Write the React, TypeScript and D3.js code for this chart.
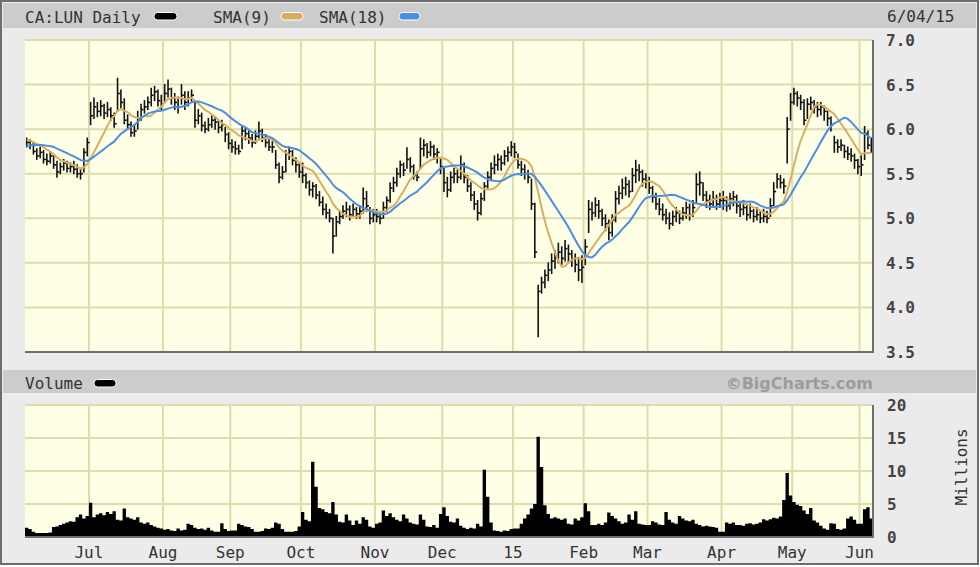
import React, { useMemo } from 'react'
import * as d3 from 'd3'

// daily bars per month: [high, low, close, volume (millions)]
type Bar = [number, number, number, number]

const jun14: Bar[] = [
    [5.90, 5.80, 5.85, 1.4], [5.88, 5.78, 5.82, 1.2], [5.84, 5.72, 5.75, 0.8], [5.78, 5.66, 5.70, 0.6],
    [5.80, 5.68, 5.74, 0.6], [5.76, 5.62, 5.66, 0.6], [5.72, 5.60, 5.64, 0.6], [5.74, 5.62, 5.70, 0.7],
    [5.70, 5.56, 5.60, 1.5], [5.64, 5.46, 5.52, 1.6], [5.62, 5.50, 5.58, 1.8], [5.66, 5.54, 5.62, 2.0],
    [5.64, 5.52, 5.56, 2.2], [5.62, 5.52, 5.58, 2.4], [5.64, 5.50, 5.55, 2.3], [5.60, 5.46, 5.50, 3.0],
    [5.56, 5.44, 5.50, 3.4], [5.78, 5.52, 5.74, 2.8], [5.90, 5.70, 5.85, 3.2],
]
const jul14: Bar[] = [
    [6.30, 6.05, 6.15, 5.2], [6.35, 6.12, 6.25, 3.0], [6.30, 6.14, 6.20, 3.4], [6.32, 6.15, 6.26, 3.6],
    [6.28, 6.12, 6.18, 3.3], [6.30, 6.14, 6.22, 3.8], [6.24, 6.10, 6.15, 3.5], [6.18, 6.02, 6.06, 3.9],
    [6.57, 6.20, 6.40, 2.6], [6.44, 6.24, 6.30, 2.5], [6.34, 6.06, 6.10, 4.3], [6.16, 6.00, 6.05, 3.0],
    [6.08, 5.92, 5.96, 2.8], [6.04, 5.92, 5.98, 2.6], [6.20, 6.00, 6.12, 3.0], [6.28, 6.10, 6.22, 2.2],
    [6.32, 6.18, 6.25, 2.0], [6.36, 6.22, 6.30, 2.2], [6.46, 6.26, 6.38, 1.8], [6.48, 6.32, 6.42, 1.6],
    [6.44, 6.26, 6.32, 1.4], [6.38, 6.22, 6.28, 1.3],
]
const aug14: Bar[] = [
    [6.50, 6.30, 6.40, 1.1], [6.55, 6.36, 6.45, 1.2], [6.46, 6.28, 6.35, 1.0], [6.40, 6.22, 6.30, 0.9],
    [6.36, 6.18, 6.25, 1.3], [6.50, 6.28, 6.38, 1.0], [6.42, 6.22, 6.30, 1.1], [6.42, 6.26, 6.35, 2.0],
    [6.44, 6.30, 6.38, 1.8], [6.30, 6.02, 6.10, 1.4], [6.22, 6.06, 6.15, 1.2], [6.18, 5.98, 6.04, 1.3],
    [6.08, 5.96, 6.00, 1.1], [6.12, 5.98, 6.05, 1.4], [6.16, 6.02, 6.10, 1.0], [6.14, 6.00, 6.08, 0.8],
    [6.10, 5.96, 6.02, 0.8], [6.10, 5.98, 6.05, 2.1], [6.02, 5.86, 5.94, 1.2], [5.96, 5.78, 5.84, 0.9],
]
const sep14: Bar[] = [
    [5.88, 5.74, 5.80, 1.0], [5.86, 5.72, 5.78, 1.0], [5.82, 5.72, 5.75, 2.0], [6.04, 5.78, 5.98, 1.8],
    [6.02, 5.88, 5.95, 1.6], [5.98, 5.84, 5.90, 1.5], [5.94, 5.80, 5.85, 1.2], [5.98, 5.84, 5.92, 0.8],
    [6.08, 5.90, 5.98, 0.8], [6.00, 5.86, 5.90, 0.9], [5.94, 5.80, 5.85, 1.3], [5.88, 5.76, 5.80, 1.2],
    [5.86, 5.74, 5.80, 1.4], [5.76, 5.56, 5.60, 2.2], [5.62, 5.40, 5.46, 2.0], [5.58, 5.44, 5.52, 1.2],
    [5.76, 5.52, 5.72, 0.8], [5.80, 5.66, 5.75, 0.8], [5.76, 5.60, 5.65, 0.8], [5.68, 5.52, 5.60, 0.9],
    [5.62, 5.46, 5.52, 1.6],
]
const oct14: Bar[] = [
    [5.62, 5.40, 5.48, 3.8], [5.50, 5.34, 5.40, 2.6], [5.42, 5.26, 5.32, 2.4], [5.40, 5.24, 5.36, 11.4],
    [5.38, 5.22, 5.26, 7.6], [5.30, 5.14, 5.18, 4.4], [5.24, 5.04, 5.10, 4.2], [5.16, 5.00, 5.06, 3.8],
    [5.10, 4.96, 5.00, 3.6], [5.00, 4.61, 4.80, 5.3], [5.02, 4.80, 4.96, 3.4], [5.08, 4.94, 5.02, 2.3],
    [5.14, 5.00, 5.08, 2.2], [5.18, 5.02, 5.10, 3.4], [5.14, 4.98, 5.04, 2.5], [5.16, 5.02, 5.10, 1.8],
    [5.12, 5.00, 5.05, 2.5], [5.14, 5.00, 5.08, 2.0], [5.34, 5.06, 5.22, 3.0], [5.30, 5.08, 5.14, 2.6],
    [5.12, 4.94, 5.00, 1.6], [5.10, 4.96, 5.04, 1.4],
]
const nov14: Bar[] = [
    [5.10, 4.96, 5.02, 2.0], [5.06, 4.94, 5.00, 2.2], [5.18, 5.00, 5.12, 4.0], [5.24, 5.08, 5.20, 3.2],
    [5.40, 5.18, 5.34, 3.6], [5.46, 5.30, 5.40, 3.0], [5.56, 5.36, 5.50, 2.6], [5.64, 5.46, 5.60, 2.4],
    [5.62, 5.48, 5.54, 3.4], [5.79, 5.56, 5.66, 2.8], [5.68, 5.52, 5.58, 2.2], [5.60, 5.44, 5.48, 2.0],
    [5.52, 5.42, 5.46, 1.9], [5.90, 5.56, 5.78, 3.4], [5.88, 5.70, 5.82, 2.6], [5.84, 5.68, 5.74, 1.6],
    [5.86, 5.70, 5.80, 1.5], [5.82, 5.66, 5.72, 1.8], [5.78, 5.62, 5.74, 1.4], [5.66, 5.50, 5.58, 3.5],
]
const dec14: Bar[] = [
    [5.56, 5.30, 5.40, 4.5], [5.46, 5.24, 5.32, 3.2], [5.52, 5.30, 5.46, 2.3], [5.56, 5.40, 5.50, 2.2],
    [5.54, 5.40, 5.46, 2.8], [5.70, 5.44, 5.60, 1.7], [5.62, 5.40, 5.46, 1.4], [5.48, 5.30, 5.36, 1.2],
    [5.40, 5.20, 5.26, 1.4], [5.30, 5.10, 5.16, 1.3], [5.20, 4.98, 5.06, 2.0], [5.28, 5.04, 5.22, 1.6],
    [5.40, 5.20, 5.36, 10.2], [5.52, 5.34, 5.46, 6.1], [5.62, 5.42, 5.56, 2.2], [5.70, 5.50, 5.60, 1.0],
    [5.72, 5.54, 5.66, 0.9], [5.70, 5.54, 5.62, 0.8], [5.76, 5.60, 5.70, 1.0], [5.80, 5.64, 5.74, 0.9],
    [5.86, 5.70, 5.80, 1.2],
]
const jan15: Bar[] = [
    [5.84, 5.68, 5.74, 1.3], [5.72, 5.56, 5.60, 1.3], [5.64, 5.48, 5.55, 2.0], [5.60, 5.44, 5.50, 2.8],
    [5.54, 5.40, 5.46, 3.4], [5.44, 5.10, 5.16, 4.3], [5.17, 4.56, 4.62, 5.0], [4.25, 3.67, 4.18, 15.2],
    [4.34, 4.16, 4.28, 10.6], [4.42, 4.22, 4.36, 4.8], [4.50, 4.30, 4.42, 3.5], [4.60, 4.38, 4.52, 2.8],
    [4.64, 4.44, 4.56, 3.0], [4.72, 4.50, 4.62, 2.8], [4.68, 4.48, 4.55, 2.6], [4.75, 4.52, 4.66, 2.8],
    [4.70, 4.50, 4.60, 2.0], [4.64, 4.46, 4.54, 1.9], [4.60, 4.40, 4.48, 2.8], [4.56, 4.30, 4.42, 2.5],
    [4.58, 4.28, 4.45, 3.0],
]
const feb15: Bar[] = [
    [4.76, 4.48, 4.68, 5.1], [5.20, 4.84, 5.10, 3.9], [5.18, 4.98, 5.06, 1.8], [5.23, 5.02, 5.15, 1.8],
    [5.20, 5.00, 5.08, 2.0], [5.10, 4.92, 5.00, 1.8], [5.04, 4.86, 4.94, 2.2], [4.98, 4.76, 4.84, 3.7],
    [5.04, 4.80, 4.98, 3.2], [5.30, 4.96, 5.22, 2.8], [5.36, 5.16, 5.28, 2.4], [5.44, 5.22, 5.34, 2.0],
    [5.46, 5.26, 5.38, 2.2], [5.42, 5.24, 5.30, 3.4], [5.56, 5.30, 5.48, 2.6], [5.65, 5.40, 5.54, 3.9],
    [5.60, 5.42, 5.52, 2.0], [5.54, 5.36, 5.44, 1.9], [5.50, 5.34, 5.42, 1.8],
]
const mar15: Bar[] = [
    [5.46, 5.28, 5.34, 1.8], [5.36, 5.18, 5.24, 2.4], [5.28, 5.10, 5.16, 2.2], [5.22, 5.04, 5.10, 1.9],
    [5.16, 4.98, 5.04, 1.8], [5.10, 4.94, 5.00, 3.8], [5.06, 4.88, 4.94, 2.6], [5.08, 4.92, 5.02, 2.2],
    [5.12, 4.96, 5.06, 2.0], [5.08, 4.94, 5.00, 3.2], [5.12, 4.98, 5.06, 2.8], [5.18, 5.00, 5.12, 2.5],
    [5.16, 4.98, 5.04, 2.4], [5.20, 5.02, 5.12, 2.6], [5.50, 5.18, 5.38, 2.0], [5.52, 5.26, 5.40, 1.8],
    [5.40, 5.20, 5.26, 1.6], [5.30, 5.12, 5.20, 1.7], [5.26, 5.10, 5.16, 1.6], [5.30, 5.12, 5.22, 1.5],
    [5.26, 5.10, 5.16, 1.4], [5.28, 5.12, 5.20, 0.8],
]
const apr15: Bar[] = [
    [5.30, 5.10, 5.20, 0.8], [5.24, 5.08, 5.14, 2.2], [5.28, 5.10, 5.22, 2.0], [5.30, 5.14, 5.24, 2.2],
    [5.26, 5.06, 5.14, 1.8], [5.18, 5.02, 5.10, 1.8], [5.20, 5.04, 5.12, 1.7], [5.14, 4.98, 5.04, 2.0],
    [5.16, 5.00, 5.08, 2.1], [5.10, 4.96, 5.02, 1.9], [5.12, 4.98, 5.04, 2.0], [5.08, 4.95, 5.00, 2.2],
    [5.10, 4.96, 5.02, 2.7], [5.08, 4.95, 5.00, 2.5], [5.22, 5.02, 5.14, 2.7], [5.40, 5.14, 5.30, 2.9],
    [5.50, 5.34, 5.44, 2.8], [5.48, 5.34, 5.40, 3.1], [5.44, 5.28, 5.36, 5.6], [6.13, 5.62, 6.00, 9.7],
    [6.40, 6.10, 6.30, 6.3],
]
const may15: Bar[] = [
    [6.46, 6.28, 6.40, 5.3], [6.42, 6.26, 6.35, 4.9], [6.38, 6.22, 6.30, 4.7], [6.33, 6.05, 6.10, 4.0],
    [6.34, 6.12, 6.28, 3.5], [6.36, 6.22, 6.30, 4.4], [6.32, 6.18, 6.25, 2.5], [6.30, 6.14, 6.22, 2.2],
    [6.30, 6.16, 6.25, 1.7], [6.26, 6.10, 6.20, 1.3], [6.20, 6.04, 6.12, 1.1], [6.14, 5.98, 6.05, 2.1],
    [5.92, 5.74, 5.85, 2.0], [5.88, 5.74, 5.80, 1.2], [5.88, 5.76, 5.82, 1.1], [5.82, 5.68, 5.75, 1.3],
    [5.80, 5.66, 5.72, 2.8], [5.78, 5.64, 5.70, 3.1], [5.72, 5.56, 5.65, 2.6], [5.66, 5.50, 5.58, 2.0],
]
const jun15: Bar[] = [
    [5.70, 5.48, 5.60, 2.0], [6.03, 5.66, 5.95, 4.2], [5.98, 5.78, 5.82, 4.5], [5.90, 5.74, 5.84, 2.8],
]

// closes before the visible window, needed to seed the moving averages
const priorCloses = [5.65, 5.70, 5.72, 5.68, 5.75, 5.78, 5.72, 5.80, 5.85, 5.90, 5.92, 5.88, 5.90, 5.85, 5.88, 5.90, 5.87]

const months = [jun14, jul14, aug14, sep14, oct14, nov14, dec14, jan15, feb15, mar15, apr15, may15, jun15]
const monthLabels = ['Jul', 'Aug', 'Sep', 'Oct', 'Nov', 'Dec', '15', 'Feb', 'Mar', 'Apr', 'May', 'Jun']
const priceTicks = [7.0, 6.5, 6.0, 5.5, 5.0, 4.5, 4.0, 3.5]
const volumeTicks = [20, 15, 10, 5, 0]

const W = 980
const H = 567
const left = 25
const right = 873
const priceTop = 40
const priceBottom = 352
const volTop = 405
const volBottom = 537

const bg = '#ebebeb'
const band = '#cccccc'
const plotFill = '#ffffe6'
const gridColor = '#dcdcae'
const frameColor = '#6e6e6e'
const sma9Color = '#d9ad62'
const sma18Color = '#4a8fe3'
const textColor = '#333'
const mono = '"DejaVu Sans Mono", "Liberation Mono", monospace'

const sma = (values: number[], period: number, offset: number) =>
    d3.range(offset, values.length).map(i => d3.mean(values.slice(i - period + 1, i + 1)) as number)

export default function App() {
    const bars = useMemo(() => months.flat(), [])
    const monthStarts = useMemo(() => {
        const starts: number[] = []
        let acc = 0
        months.forEach((m, i) => {
            if (i > 0) starts.push(acc)
            acc += m.length
        })
        return starts
    }, [])

    const xScale = useMemo(() => (
        d3.scaleLinear().domain([0, bars.length]).range([left, right])
    ), [bars])
    const yScale = useMemo(() => (
        d3.scaleLinear().domain([3.5, 7]).range([priceBottom, priceTop])
    ), [])
    const vScale = useMemo(() => (
        d3.scaleLinear().domain([0, 20]).range([volBottom, volTop])
    ), [])

    const closes = bars.map(b => b[2])
    const all = priorCloses.concat(closes)
    const sma9 = sma(all, 9, priorCloses.length)
    const sma18 = sma(all, 18, priorCloses.length)

    const line = d3.line<number>()
        .x((_, i) => xScale(i + 0.5))
        .y(d => yScale(d))
        .curve(d3.curveLinear)

    const step = xScale(1) - xScale(0)
    const volArea = d3.area<Bar>()
        .x((_, i) => xScale(i + 0.5))
        .y0(volBottom)
        .y1(d => vScale(d[3]))
        .curve(d3.curveStepAfter)

    return (
        <svg width={W} height={H} viewBox={`0 0 ${W} ${H}`}
            style={{ position: 'absolute', left: 0, top: 0, display: 'block' }}>
            <rect x={0} y={0} width={W} height={H} fill="#fff" />
            <rect x={1} y={1} width={W - 3} height={H - 4} fill={bg} stroke={frameColor} strokeWidth={2} />

            {/* header band */}
            <rect x={3} y={3} width={W - 7} height={25} fill={band} />
            <text x={25} y={23} fontFamily={mono} fontSize={16} fill={textColor}>CA:LUN Daily</text>
            <rect x={154} y={12.5} width={23} height={7.5} rx={3.5} fill="#000" stroke="#fff" strokeWidth={1} />
            <text x={213} y={23} fontFamily={mono} fontSize={16} fill={textColor}>SMA(9)</text>
            <rect x={281} y={12.5} width={22} height={7.5} rx={3.5} fill={sma9Color} stroke="#fff" strokeWidth={1} />
            <text x={319} y={23} fontFamily={mono} fontSize={16} fill={textColor}>SMA(18)</text>
            <rect x={399} y={12.5} width={21} height={7.5} rx={3.5} fill={sma18Color} stroke="#fff" strokeWidth={1} />
            <text x={887} y={22} fontFamily={mono} fontSize={16} fill={textColor}>6/04/15</text>

            {/* price panel */}
            <rect x={left} y={priceTop} width={right - left} height={priceBottom - priceTop} fill={plotFill} />
            <g stroke={gridColor} strokeWidth={2}>
                {priceTicks.slice(0, -1).map(t => (
                    <line key={t} x1={left} x2={right} y1={yScale(t)} y2={yScale(t)} />
                ))}
                {monthStarts.map(s => (
                    <line key={s} x1={xScale(s)} x2={xScale(s)} y1={priceTop} y2={priceBottom} />
                ))}
            </g>
            <g stroke="#111" strokeWidth={1.6}>
                {bars.map((b, i) => {
                    const cx = xScale(i + 0.5)
                    return (
                        <g key={i}>
                            <line x1={cx} x2={cx} y1={yScale(b[0]) - 0.5} y2={yScale(b[1]) + 0.5} />
                            <line x1={cx} x2={cx + 2.4} y1={yScale(b[2])} y2={yScale(b[2])} />
                        </g>
                    )
                })}
            </g>
            <path d={line(sma9) || ''} fill="none" stroke={sma9Color} strokeWidth={2} />
            <path d={line(sma18) || ''} fill="none" stroke={sma18Color} strokeWidth={2} />
            <line x1={left} x2={right + 1} y1={priceBottom} y2={priceBottom} stroke={frameColor} strokeWidth={2} />
            <line x1={right} x2={right} y1={priceTop} y2={priceBottom} stroke={frameColor} strokeWidth={2} />
            {priceTicks.map(t => (
                <text key={t} x={886} y={yScale(t) + 6} fontFamily={mono} fontSize={16} fontWeight="bold" fill="#444">
                    {t.toFixed(1)}
                </text>
            ))}

            {/* volume header band */}
            <rect x={3} y={370} width={W - 7} height={23} fill={band} />
            <text x={25} y={389} fontFamily={mono} fontSize={16} fill={textColor}>Volume</text>
            <rect x={94} y={379.5} width={22} height={7.5} rx={3.5} fill="#000" stroke="#fff" strokeWidth={1} />
            <text x={873} y={389} textAnchor="end" fontFamily='"DejaVu Sans", sans-serif' fontSize={16}
                fontWeight="bold" fill="#9c9c9c">©BigCharts.com</text>

            {/* volume panel */}
            <rect x={left} y={volTop} width={right - left} height={volBottom - volTop} fill={plotFill} />
            <g stroke={gridColor} strokeWidth={2}>
                {volumeTicks.slice(0, -1).map(t => (
                    <line key={t} x1={left} x2={right} y1={vScale(t)} y2={vScale(t)} />
                ))}
                {monthStarts.map(s => (
                    <line key={s} x1={xScale(s)} x2={xScale(s)} y1={volTop} y2={volBottom} />
                ))}
            </g>
            <path d={volArea(bars.concat([bars[bars.length - 1]])) || ''} fill="#000"
                transform={`translate(${-step / 2} 0)`} />
            <line x1={left} x2={right + 1} y1={volBottom} y2={volBottom} stroke={frameColor} strokeWidth={2} />
            <line x1={right} x2={right} y1={volTop} y2={volBottom} stroke={frameColor} strokeWidth={2} />
            {volumeTicks.map(t => (
                <text key={t} x={887} y={vScale(t) + 6} fontFamily={mono} fontSize={16} fontWeight="bold" fill="#444">
                    {t}
                </text>
            ))}
            <text transform="translate(967 467) rotate(-90)" textAnchor="middle" fontFamily={mono}
                fontSize={16} fill={textColor}>Millions</text>

            {monthStarts.map((s, i) => (
                <text key={s} x={xScale(s)} y={558} textAnchor="middle" fontFamily={mono} fontSize={16} fill={textColor}>
                    {monthLabels[i]}
                </text>
            ))}
        </svg>
    )
}
